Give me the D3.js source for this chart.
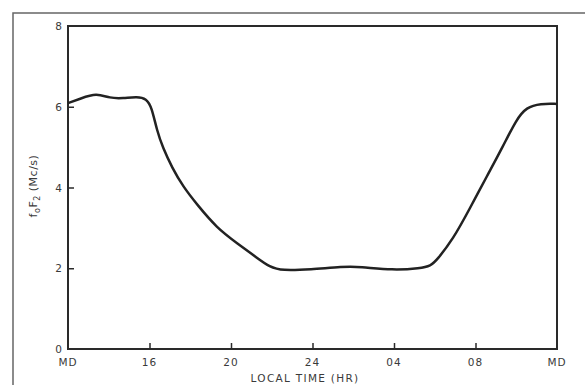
<!DOCTYPE html>
<html><head><meta charset="utf-8">
<script src="https://cdn.jsdelivr.net/npm/d3@7"></script>
<style>
html,body{margin:0;padding:0;background:#fff;}
svg{display:block;}
text{font-family:"DejaVu Sans",sans-serif;fill:#3a3a3a;}
</style></head>
<body>
<svg id="c" width="585" height="385"></svg>
<script>
const tickHours = [12, 16, 20, 24, 28, 32, 36];
const tickLabels = ["MD", "16", "20", "24", "04", "08", "MD"];
const yTicks = [0, 2, 4, 6, 8];
const hours = [12, 12.6, 13.4, 14.06, 14.7, 15.4, 15.85, 16.1, 16.37, 16.66, 17.1, 17.65, 18.33, 19.3, 20.3, 21.3, 21.9, 22.5, 23.9, 25.5, 26.3, 27.95, 29.3, 29.8, 30.1, 30.9, 31.7, 32.56, 33.35, 34.0, 34.5, 35.2, 36];
const foF2 = [6.09, 6.2, 6.34, 6.21, 6.21, 6.25, 6.2, 6.0, 5.4, 4.98, 4.5, 4.02, 3.58, 3.0, 2.62, 2.25, 2.03, 1.94, 1.97, 2.04, 2.04, 1.95, 2.0, 2.06, 2.2, 2.72, 3.46, 4.28, 5.02, 5.68, 5.99, 6.08, 6.07];

const svg = d3.select("#c");
const L = 68, R = 557, T = 26, B = 349;
const x = d3.scaleLinear().domain([12, 36]).range([L, R]);
const y = d3.scaleLinear().domain([0, 8]).range([B, T]);

// outer frame
svg.append("path").attr("d", "M13,385 L13,13 L585,13")
  .attr("fill", "none").attr("stroke", "#666").attr("stroke-width", 1.5);

// plot frame
svg.append("rect").attr("x", L).attr("y", T).attr("width", R - L).attr("height", B - T)
  .attr("fill", "none").attr("stroke", "#2a2a2a").attr("stroke-width", 2);

// x axis (ticks pointing inward)
const xAxis = d3.axisTop(x).tickValues(tickHours.slice(1, -1)).tickSize(6).tickFormat("");
const gx = svg.append("g").attr("transform", `translate(0,${B})`).call(xAxis);
gx.select(".domain").remove();
gx.selectAll("line").attr("stroke", "#2a2a2a").attr("stroke-width", 1.5);
svg.append("g").selectAll("text").data(tickHours).join("text")
  .attr("x", d => x(d)).attr("y", 366).attr("text-anchor", "middle")
  .attr("font-size", 10.5).attr("letter-spacing", 1)
  .text((d, i) => tickLabels[i]);

// y axis
const yAxis = d3.axisRight(y).tickValues(yTicks.slice(1, -1)).tickSize(6).tickFormat("");
const gy = svg.append("g").attr("transform", `translate(${L},0)`).call(yAxis);
gy.select(".domain").remove();
gy.selectAll("line").attr("stroke", "#2a2a2a").attr("stroke-width", 1.5);
svg.append("g").selectAll("text").data(yTicks).join("text")
  .attr("x", 62).attr("y", d => y(d) + 4).attr("text-anchor", "end")
  .attr("font-size", 10.5).text(d => d);

// axis titles
svg.append("text").attr("x", 305).attr("y", 382).attr("text-anchor", "middle")
  .attr("font-size", 10.5).attr("letter-spacing", 1.3).text("LOCAL TIME (HR)");
const yl = svg.append("text").attr("transform", "translate(37,186) rotate(-90)")
  .attr("text-anchor", "middle").attr("font-size", 11).attr("letter-spacing", 0.5);
yl.append("tspan").text("f");
yl.append("tspan").attr("font-size", 8).attr("dy", 3).text("o");
yl.append("tspan").attr("dy", -3).text("F");
yl.append("tspan").attr("font-size", 8).attr("dy", 3).text("2");
yl.append("tspan").attr("dy", -3).text(" (Mc/s)");

// curve
const line = d3.line().x((d, i) => x(hours[i])).y(d => y(d)).curve(d3.curveBasis);
svg.append("path").datum(foF2).attr("d", line)
  .attr("fill", "none").attr("stroke", "#222").attr("stroke-width", 2.5);
</script>
</body></html>
